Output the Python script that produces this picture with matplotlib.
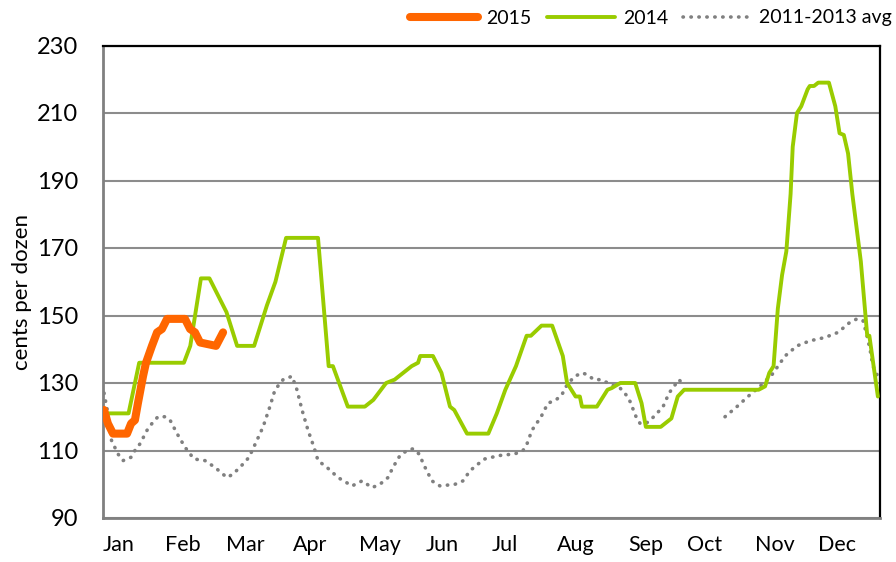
import numpy as np
import matplotlib
matplotlib.use("Agg")
import matplotlib.pyplot as plt

plt.rcParams['font.family'] = ['Lato', 'DejaVu Sans']

# ---- data (x = day of year) ----
months = ["Jan", "Feb", "Mar", "Apr", "May", "Jun", "Jul", "Aug", "Sep", "Oct", "Nov", "Dec"]
month_pos = [7.5, 37.6, 66.7, 97.2, 130.1, 159.3, 188.9, 222.2, 255.1, 282.8, 315.7, 344.8]

x2015 = [0.5, 2.3, 4.7, 11.3, 13.2, 15, 16.4, 18.8, 20.2, 23, 25.4, 27.7, 30.1, 38.5, 40.9, 43.2, 45.6, 53.1, 56.4]
y2015 = [122, 118, 115, 115, 118, 119, 124, 132, 136, 141, 145, 146, 149, 149, 146, 145, 142, 141, 145]

x2014 = [0, 12, 17, 38, 41, 46, 50, 54, 58, 63, 71, 77, 81, 86, 101, 106, 108, 115, 123, 127,
         133, 137, 145, 148, 149, 155, 159, 163, 165, 171, 181, 185, 189, 194, 199, 201, 206, 211,
         216, 218, 222, 224, 225, 232, 237, 239, 243, 250, 253, 255, 262, 264, 267, 270, 273, 308,
         311, 313, 315, 317, 319, 321, 323, 324, 326, 328, 331, 332, 334, 336, 341, 344, 346, 348,
         350, 352, 356, 359, 360, 362, 364]
y2014 = [121, 121, 136, 136, 141, 161, 161, 156, 151, 141, 141, 153, 160, 173, 173, 135, 135, 123, 123, 125,
         130, 131, 135, 136, 138, 138, 133, 123, 122, 115, 115, 121, 128, 135, 144, 144, 147, 147,
         138, 130, 126, 126, 123, 123, 128, 128.5, 130, 130, 124, 117, 117, 118, 119.5, 126, 128, 128,
         129, 133, 135, 152, 162, 169, 186, 200, 210, 212, 217, 218, 218, 219, 219, 212, 204, 203.5,
         198, 186, 166, 144, 144, 135, 126]

xavg = [0.5, 2, 4, 7, 9.4, 13.2, 15, 17.4, 20.7, 23, 25.8, 29.1, 31.5, 34.8, 38.5, 42.7, 47.9, 52.6,
        58.2, 61.1, 65.8, 68.6, 72.3, 75.2, 78.4, 80.8, 84.6, 88.8, 91.1, 93.5, 96.3, 99.1, 101,
        105.2, 110.4, 117, 121.7, 126.4, 130.1, 133.9, 136.2, 139.5, 142.8, 145.6, 148.4, 151.3,
        154.5, 158.3, 165.4, 169.1, 172.4, 176.2, 179.4, 186, 193.5, 197.3, 199.2, 201.5, 205.8,
        209, 212.8, 215.6, 217, 219.4, 221.7, 225, 227.4, 230.6, 233.9, 237.2, 240.5, 242.9,
        245.7, 247.6, 250.4, 252.3, 255.1, 257.9, 260.2, 263.1, 265.9, 268.2, 270.6, 272.5,
        282,
        292.2, 297.8, 303, 308.6, 314.3, 320.4, 326, 332.1, 339.2, 345.3, 350.9, 354.2, 357,
        358.9, 360.3, 361.7, 363.6]
yavg = [127, 122, 113, 109, 107, 108, 110, 112, 116, 118, 120, 120, 119, 115, 111, 107.5, 107, 105,
        102, 103, 106, 108, 113, 117, 123, 128, 131, 132, 128, 122, 116, 111, 107,
        105, 102, 99.5, 101, 99, 100, 102, 105, 108.5, 110, 110.5, 109, 105,
        101, 99.5, 100, 101, 104, 106, 107.5, 108.5, 109, 110, 112, 116, 120,
        124, 125, 126.5, 128.5, 130.5, 132, 133, 132.5, 131, 131, 130, 129, 128.5,
        126.5, 124.5, 120, 118, 118, 119.5, 121, 123, 127, 129, 131, 129.5,
        np.nan,
        120, 123, 126, 129, 132.5, 138, 141, 142.5, 143.5, 145, 148, 149, 148.5,
        144, 140, 135, 132.5]

yticks = [90, 110, 130, 150, 170, 190, 210, 230]

# ---- figure ----
fig = plt.figure(figsize=(8.96, 5.62), dpi=100)
ax = fig.add_axes([103/896, 1-518/562, (880-103)/896, (518-45.5)/562])

orange = '#FF6600'
green = '#99CC00'
grey = '#808080'

ax.plot(x2015, y2015, color=orange, lw=5.8, solid_capstyle='round', solid_joinstyle='round',
        label='2015', zorder=5)
ax.plot(x2014, y2014, color=green, lw=2.8, solid_capstyle='round', solid_joinstyle='round',
        label='2014', zorder=4)
ax.plot(xavg, yavg, color=grey, lw=2.6, linestyle=(0, (0.1, 2.1)), dash_capstyle='round',
        label='2011-2013 avg', zorder=3)

ax.set_xlim(0, 365)
ax.set_ylim(90, 230)
ax.set_yticks(yticks)
ax.set_xticks(month_pos)
ax.set_xticklabels(months)
ax.tick_params(axis='both', length=0, labelsize=15.5)
ax.tick_params(axis='y', pad=18, labelsize=17)
ax.tick_params(axis='x', pad=12)
ax.yaxis.grid(True, color='#8c8c8c', lw=1.5)
ax.set_axisbelow(True)

for s in ['left', 'bottom']:
    ax.spines[s].set_color(grey)
    ax.spines[s].set_linewidth(2)
for s in ['top', 'right']:
    ax.spines[s].set_color('black')
    ax.spines[s].set_linewidth(1.6)

fig.text(22/896, 1-292/562, 'cents per dozen', rotation=90, ha='center', va='center', fontsize=16)

leg = ax.legend(loc='center right', bbox_to_anchor=(892/896, 1-18/562), bbox_transform=fig.transFigure,
                ncol=3, frameon=False, fontsize=14, handlelength=3.5, handletextpad=0.4,
                columnspacing=0.8, borderaxespad=0, borderpad=0)

fig.savefig('out.png', dpi=100)
